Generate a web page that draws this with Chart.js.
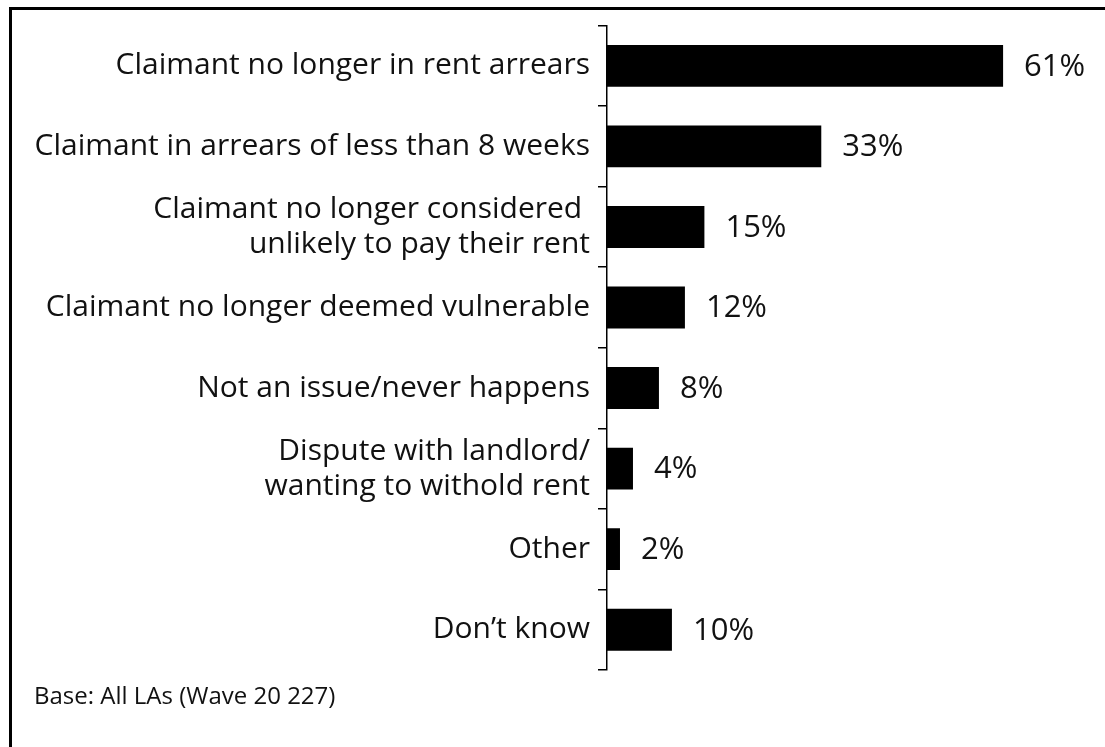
<!DOCTYPE html>
<html>
<head>
<meta charset="utf-8">
<script src="https://cdn.jsdelivr.net/npm/chart.js@4.4.0/dist/chart.umd.min.js"></script>
<style>
  html, body { margin: 0; padding: 0; background: #fff; }
  #wrap { position: relative; width: 1105px; height: 747px; overflow: hidden; }
  #frame { position: absolute; left: 9px; top: 7px; width: 1200px; height: 800px;
           border-top: 3px solid #000; border-left: 3px solid #000; }
  #chart { position: absolute; left: 0; top: 0; }
  #base { position: absolute; left: 34px; top: 678px; font-family: "Open Sans", sans-serif;
          font-size: 24px; color: #111; }
</style>
</head>
<body>
<div id="wrap">
  <div id="frame"></div>
  <canvas id="chart" width="1105" height="747"></canvas>
  <div id="base">Base: All LAs (Wave 20 227)</div>
</div>
<script>
const categories = [
  "Claimant no longer in rent arrears",
  "Claimant in arrears of less than 8 weeks",
  ["Claimant no longer considered ", "unlikely to pay their rent"],
  "Claimant no longer deemed vulnerable",
  "Not an issue/never happens",
  ["Dispute with landlord/", "wanting to withold rent"],
  "Other",
  "Don\u2019t know"
];
const values = [61, 33, 15, 12, 8, 4, 2, 10];

const FONT = "Open Sans";
const AXIS_X = 607;

// value labels to the right of each bar
const valueLabels = {
  id: "valueLabels",
  afterDatasetsDraw(chart) {
    const ctx = chart.ctx;
    const meta = chart.getDatasetMeta(0);
    ctx.save();
    ctx.fillStyle = "#111";
    ctx.font = "31px '" + FONT + "'";
    ctx.textAlign = "left";
    ctx.textBaseline = "middle";
    meta.data.forEach((bar, i) => {
      ctx.fillText(values[i] + "%", bar.x + 21, bar.y + 1);
    });
    ctx.restore();
  }
};

new Chart(document.getElementById("chart"), {
  type: "bar",
  data: {
    labels: categories,
    datasets: [{
      data: values,
      backgroundColor: "#000",
      borderWidth: 0,
      categoryPercentage: 1,
      barPercentage: 0.52
    }]
  },
  options: {
    indexAxis: "y",
    responsive: false,
    animation: false,
    layout: { padding: { top: 24, bottom: 77, left: 0, right: 11 } },
    scales: {
      x: { display: false, min: 0, max: 75 },
      y: {
        afterFit(scale) { scale.width = AXIS_X; },
        border: { display: true, color: "#000", width: 1.5 },
        grid: {
          offset: true,
          drawOnChartArea: false,
          drawTicks: true,
          tickLength: 9,
          tickColor: "#000",
          lineWidth: 1.5
        },
        ticks: {
          color: "#111",
          padding: 8,
          font: { family: FONT, size: 30, lineHeight: 1.17 }
        }
      }
    },
    plugins: {
      legend: { display: false },
      tooltip: { enabled: false }
    }
  },
  plugins: [valueLabels]
});
</script>
</body>
</html>
